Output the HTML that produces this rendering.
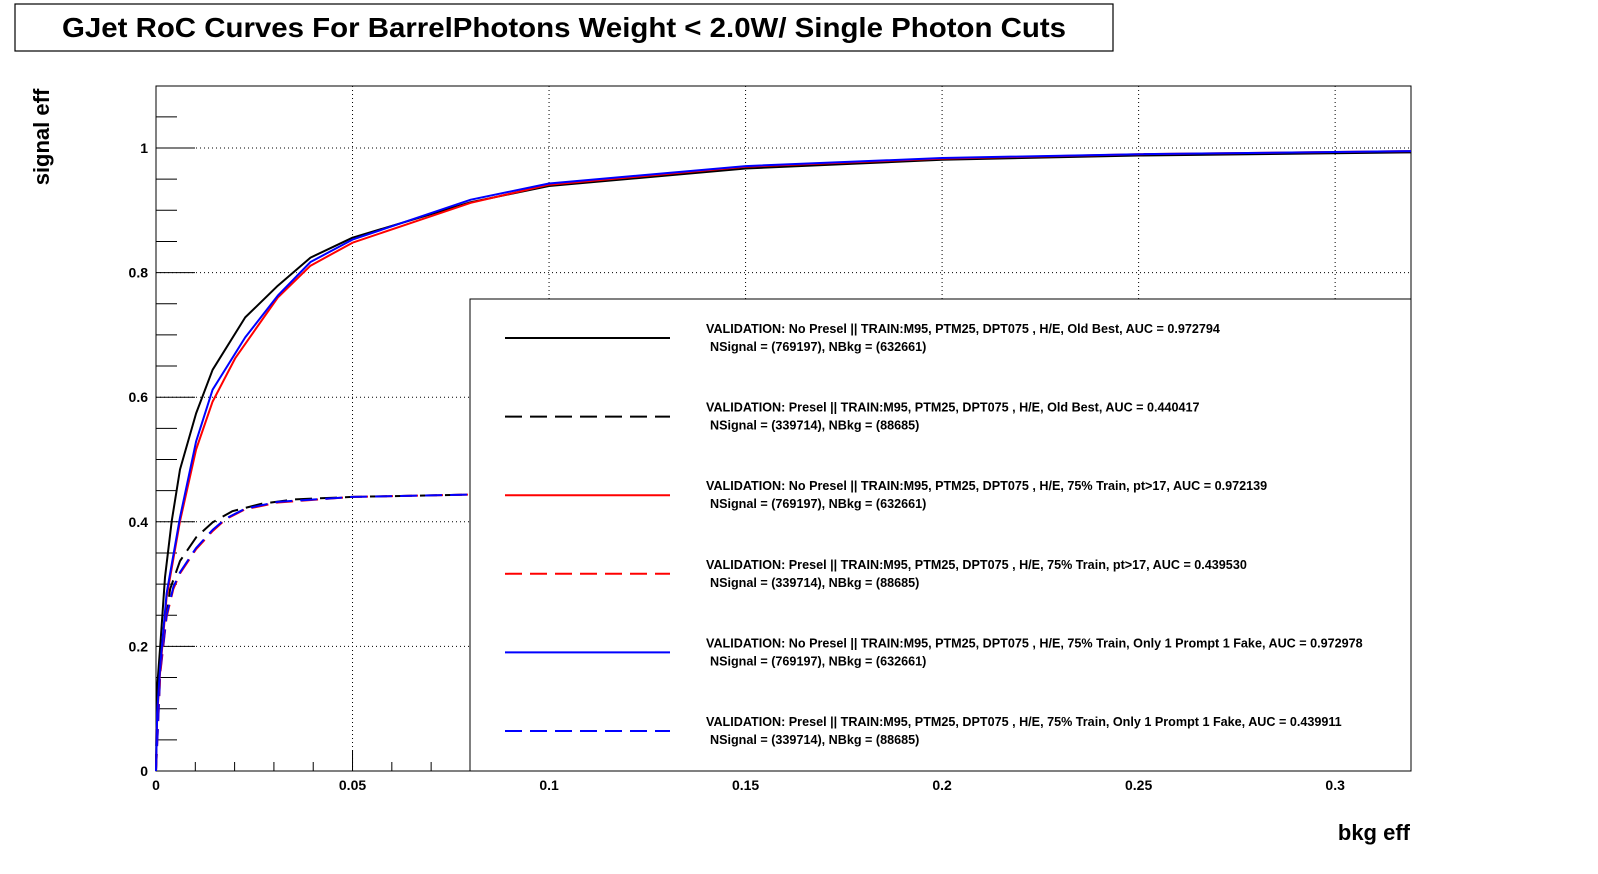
<!DOCTYPE html>
<html><head><meta charset="utf-8"><style>
html,body{margin:0;padding:0;background:#fff;overflow:hidden;width:1598px;height:874px}
svg{display:block;font-family:"Liberation Sans",Arial,sans-serif;font-weight:bold}
</style></head><body>
<svg id="c" width="1598" height="874" xmlns="http://www.w3.org/2000/svg">
<rect x="15" y="4" width="1098" height="47" fill="#fff" stroke="#000" stroke-width="1.2"/>
<text x="564" y="37" font-size="28" text-anchor="middle" textLength="1004" lengthAdjust="spacingAndGlyphs">GJet RoC Curves For BarrelPhotons Weight &lt; 2.0W/ Single Photon Cuts</text>
<g id="grid"></g>
<g id="axes"></g>
<g id="series"></g>
<g id="legend"></g>
<text x="49" y="137" font-size="22" text-anchor="middle" transform="rotate(-90 49 137)">signal eff</text>
<text x="1410" y="840" font-size="22" text-anchor="end">bkg eff</text>
</svg>
<script>
const xTicks=[0,0.05,0.1,0.15,0.2,0.25,0.3];
const xTickLabels=["0","0.05","0.1","0.15","0.2","0.25","0.3"];
const yTicks=[0,0.2,0.4,0.6,0.8,1];
const yTickLabels=["0","0.2","0.4","0.6","0.8","1"];
const bkgSolidBlack=[0,0.00025,0.0011,0.0023,0.004,0.0061,0.0102,0.0144,0.0227,0.031,0.0393,0.05,0.0801,0.1,0.15,0.2,0.25,0.3193];
const sigSolidBlack=[0,0.131,0.202,0.311,0.401,0.484,0.574,0.644,0.728,0.779,0.824,0.856,0.913,0.939,0.967,0.981,0.988,0.993];
const bkgSolidRed=[0,0.0003,0.0011,0.0027,0.0061,0.0102,0.0144,0.0202,0.031,0.0393,0.05,0.0801,0.1,0.15,0.2,0.25,0.3193];
const sigSolidRed=[0,0.09,0.163,0.279,0.401,0.516,0.593,0.663,0.760,0.811,0.848,0.912,0.941,0.970,0.983,0.990,0.995];
const bkgSolidBlue=[0,0.0003,0.0011,0.0027,0.0061,0.0102,0.0144,0.0227,0.031,0.0393,0.05,0.0801,0.1,0.15,0.2,0.25,0.3193];
const sigSolidBlue=[0,0.095,0.17,0.285,0.407,0.529,0.612,0.696,0.763,0.817,0.853,0.917,0.943,0.971,0.984,0.990,0.995];
const bkgDashBlack=[0,0.0002,0.0019,0.0036,0.0061,0.0102,0.0144,0.0194,0.0269,0.0352,0.05,0.0801,0.15,0.3193];
const sigDashBlack=[0,0.119,0.215,0.292,0.337,0.375,0.399,0.417,0.429,0.436,0.440,0.4436,0.4448,0.4453];
const bkgDashRed=[0,0.0011,0.0027,0.0044,0.0061,0.0102,0.0144,0.0177,0.0227,0.031,0.05,0.0801,0.15,0.3193];
const sigDashRed=[0,0.157,0.247,0.292,0.317,0.356,0.385,0.404,0.420,0.431,0.440,0.4436,0.4448,0.4453];
const sigDashBlue=[0,0.16,0.25,0.295,0.319,0.358,0.387,0.405,0.421,0.432,0.440,0.4436,0.4448,0.4453];
const legendLabels=[
["VALIDATION: No Presel || TRAIN:M95, PTM25, DPT075 , H/E, Old Best, AUC = 0.972794","NSignal = (769197), NBkg = (632661)"],
["VALIDATION: Presel || TRAIN:M95, PTM25, DPT075 , H/E, Old Best, AUC = 0.440417","NSignal = (339714), NBkg = (88685)"],
["VALIDATION: No Presel || TRAIN:M95, PTM25, DPT075 , H/E, 75% Train, pt>17, AUC = 0.972139","NSignal = (769197), NBkg = (632661)"],
["VALIDATION: Presel || TRAIN:M95, PTM25, DPT075 , H/E, 75% Train, pt>17, AUC = 0.439530","NSignal = (339714), NBkg = (88685)"],
["VALIDATION: No Presel || TRAIN:M95, PTM25, DPT075 , H/E, 75% Train, Only 1 Prompt 1 Fake, AUC = 0.972978","NSignal = (769197), NBkg = (632661)"],
["VALIDATION: Presel || TRAIN:M95, PTM25, DPT075 , H/E, 75% Train, Only 1 Prompt 1 Fake, AUC = 0.439911","NSignal = (339714), NBkg = (88685)"]
];
const NS="http://www.w3.org/2000/svg";
const X0=156,X1=1411,Y0=771,Y1=86,XMAX=0.3193,YMAX=1.0995;
const sx=v=>X0+v/XMAX*(X1-X0);
const sy=v=>Y0-v/YMAX*(Y0-Y1);
function mk(tag,attrs,parent){const e=document.createElementNS(NS,tag);for(const k in attrs)e.setAttribute(k,attrs[k]);parent.appendChild(e);return e;}
const grid=document.getElementById('grid'),axes=document.getElementById('axes'),ser=document.getElementById('series'),leg=document.getElementById('legend');
mk('rect',{x:X0,y:Y1,width:X1-X0,height:Y0-Y1,fill:'#fff',stroke:'#000','stroke-width':1},grid);
xTicks.forEach((t,i)=>{
 if(t>0){const g=mk('line',{x1:sx(t),x2:sx(t),y1:Y0,y2:Y1,stroke:'#000','stroke-width':1,'stroke-dasharray':'1,3'},grid);
 
 }
 const tx=mk('text',{x:sx(t),y:Y0+19,'font-size':14,'text-anchor':'middle'},axes);tx.textContent=xTickLabels[i];
 
 
});
yTicks.forEach((t,i)=>{
 if(t>0){const g=mk('line',{x1:X0,x2:X1,y1:sy(t),y2:sy(t),stroke:'#000','stroke-width':1,'stroke-dasharray':'1,3'},grid);
 
 }
 const tx=mk('text',{x:X0-8,y:sy(t)+5,'font-size':14,'text-anchor':'end'},axes);tx.textContent=yTickLabels[i];
 
 
});
for(let k=0;k<=32;k++){const v=k*0.01;if(v>XMAX)break;const major=k%5===0;
 mk('line',{x1:sx(v),x2:sx(v),y1:Y0,y2:Y0-(major?21:9),stroke:'#000','stroke-width':1},axes);}
for(let k=0;k<=22;k++){const v=k*0.05;if(v>YMAX)break;const major=k%4===0;
 mk('line',{x1:X0,x2:X0+(major?39:21),y1:sy(v),y2:sy(v),stroke:'#000','stroke-width':1},axes);}
function curve(xs,ys,color,dash,name){
 const d=xs.map((x,i)=>(i?'L':'M')+sx(x).toFixed(1)+','+sy(ys[i]).toFixed(1)).join('');
 const p=mk('path',{d:d,fill:'none',stroke:color,'stroke-width':2,'stroke-dasharray':dash?'17,8':'none','stroke-linejoin':'round'},ser);
 
 
}
curve(bkgDashBlack,sigDashBlack,'#000',true,'curve-presel-old-best');
curve(bkgDashRed,sigDashRed,'#f00',true,'curve-presel-75-train');
curve(bkgDashRed,sigDashBlue,'#00f',true,'curve-presel-prompt-fake');
curve(bkgSolidBlack,sigSolidBlack,'#000',false,'curve-nopresel-old-best');
curve(bkgSolidRed,sigSolidRed,'#f00',false,'curve-nopresel-75-train');
curve(bkgSolidBlue,sigSolidBlue,'#00f',false,'curve-nopresel-prompt-fake');
const lb=mk('rect',{x:470,y:299,width:941,height:472,fill:'#fff',stroke:'#000','stroke-width':1},leg);


const colors=['#000','#000','#f00','#f00','#00f','#00f'];
legendLabels.forEach((lab,i)=>{
 const y=338+i*78.6;
 const g=mk('g',{},leg);
 
 
 mk('line',{x1:505,x2:670,y1:y,y2:y,stroke:colors[i],'stroke-width':2,'stroke-dasharray':i%2?'17,8':'none'},g);
 const t1=mk('text',{x:706,y:y-5,'font-size':12.6},g);t1.textContent=lab[0];
 const t2=mk('text',{x:710,y:y+13,'font-size':12.6},g);t2.textContent=lab[1];
});
</script>
</body></html>
